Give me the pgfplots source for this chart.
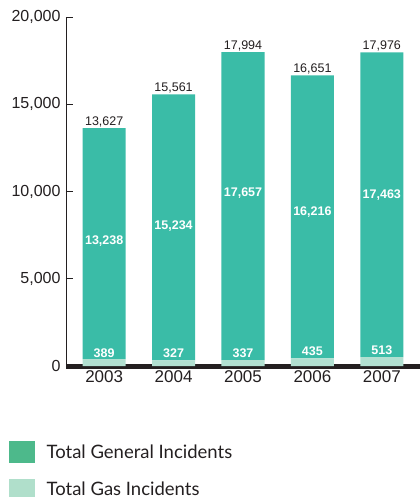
\documentclass[border=0pt]{standalone}
\usepackage{fontspec}
\setmainfont{Liberation Sans}
\newfontfamily\legendfont{Lato}
\usepackage{pgfplots}
\pgfplotsset{compat=1.18}
\definecolor{barteal}{HTML}{3ABCA7}
\definecolor{gasteal}{HTML}{B2E0D1}
\definecolor{leggreen}{HTML}{4DB98B}
\definecolor{leglight}{HTML}{B0DFCB}
\definecolor{axisdark}{HTML}{231F20}
\tikzset{
  totlab/.style={anchor=base, inner sep=0pt, yshift=3bp, font=\fontsize{12.5bp}{15bp}\selectfont, text=axisdark},
  inlab/.style={anchor=center, inner sep=0pt, font=\bfseries\fontsize{12.5bp}{15bp}\selectfont, text=white},
}
\begin{document}
\begin{tikzpicture}
\begin{axis}[
  scale only axis, width=354bp, height=349bp,
  xmin=-0.55, xmax=4.55, ymin=0, ymax=20000,
  ybar stacked, bar width=43bp,
  axis lines*=left,
  clip=false,
  axis line style={draw=axisdark, line width=0.9bp},
  x axis line style={line width=5bp},
  xtick={0,1,2,3,4}, xticklabels={2003,2004,2005,2006,2007},
  xtick style={draw=none},
  ytick={0,5000,10000,15000,20000},
  ytick style={draw=axisdark, line width=0.9bp},
  tick align=inside, major tick length=7bp,
  scaled y ticks=false,
  /pgf/number format/assume math mode=true,
  /pgf/number format/1000 sep={,},
  yticklabel style={font=\fontsize{16bp}{19bp}\selectfont, text=axisdark, xshift=-2bp},
  xticklabel style={font=\fontsize{17bp}{20bp}\selectfont, text=axisdark, yshift=-1bp},
  legend style={at={(-0.161,-0.215)}, anchor=north west, draw=none, fill=none,
    inner sep=0pt, row sep=16bp, column sep=0bp,
    font=\legendfont\fontsize{18.5bp}{22bp}\selectfont, text=axisdark,
    cells={anchor=west}},
  legend cell align=left,
]
\addplot[fill=gasteal, draw=none, forget plot] coordinates {(0,389) (1,327) (2,337) (3,435) (4,513)};
\addplot[fill=barteal, draw=none, forget plot] coordinates {(0,13238) (1,15234) (2,17657) (3,16216) (4,17463)};
\addlegendimage{legend image code/.code={\fill[leggreen] (0bp,-10.5bp) rectangle (25bp,10.5bp);}}
\addlegendentry{\hspace{10bp}Total General Incidents}
\addlegendimage{legend image code/.code={\fill[leglight] (0bp,-10.5bp) rectangle (25bp,10.5bp);}}
\addlegendentry{\hspace{10bp}Total Gas Incidents}
% label anchors (positions of value labels)
\coordinate (T0) at (axis cs:0,13627);
\coordinate (T1) at (axis cs:1,15561);
\coordinate (T2) at (axis cs:2,17994);
\coordinate (T3) at (axis cs:3,16651);
\coordinate (T4) at (axis cs:4,17976);
\coordinate (G0) at (axis cs:0,7181);
\coordinate (G1) at (axis cs:1,8040);
\coordinate (G2) at (axis cs:2,9914);
\coordinate (G3) at (axis cs:3,8825);
\coordinate (G4) at (axis cs:4,9799);
\coordinate (S0) at (axis cs:0,728);
\coordinate (S1) at (axis cs:1,705);
\coordinate (S2) at (axis cs:2,705);
\coordinate (S3) at (axis cs:3,820);
\coordinate (S4) at (axis cs:4,877);
\end{axis}
% totals
\node[totlab] at (T0) {13,627};
\node[totlab] at (T1) {15,561};
\node[totlab] at (T2) {17,994};
\node[totlab] at (T3) {16,651};
\node[totlab] at (T4) {17,976};
% general values
\node[inlab] at (G0) {13,238};
\node[inlab] at (G1) {15,234};
\node[inlab] at (G2) {17,657};
\node[inlab] at (G3) {16,216};
\node[inlab] at (G4) {17,463};
% gas values
\node[inlab] at (S0) {389};
\node[inlab] at (S1) {327};
\node[inlab] at (S2) {337};
\node[inlab] at (S3) {435};
\node[inlab] at (S4) {513};
\pgfresetboundingbox
\path[use as bounding box] (-66bp,-131bp) rectangle (354bp,366bp);
\end{tikzpicture}
\end{document}
